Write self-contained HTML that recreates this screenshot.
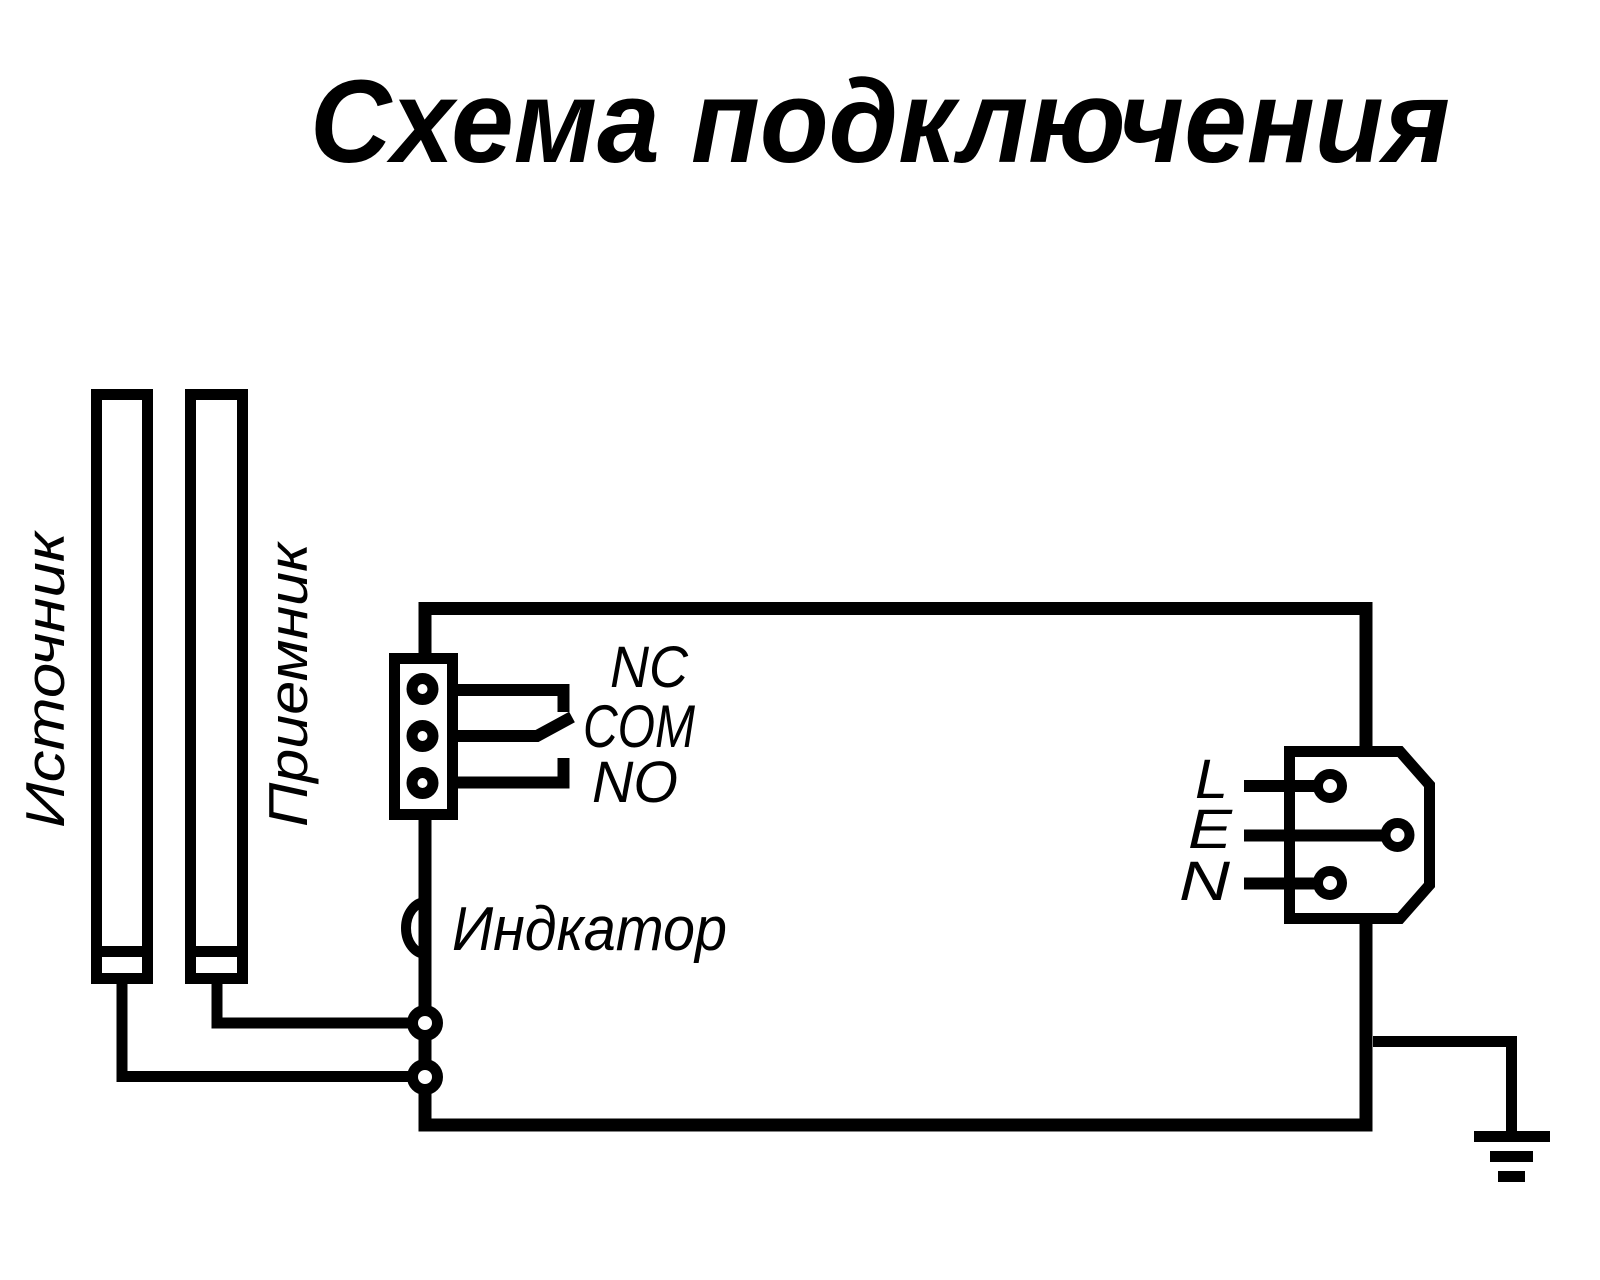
<!DOCTYPE html>
<html>
<head>
<meta charset="utf-8">
<style>
html,body{margin:0;padding:0;background:#fff;}
svg{display:block;}
text{font-family:"Liberation Sans","DejaVu Sans",sans-serif;font-style:italic;fill:#000;}
</style>
</head>
<body>
<svg width="1600" height="1280" viewBox="0 0 1600 1280" xmlns="http://www.w3.org/2000/svg">
<rect x="0" y="0" width="1600" height="1280" fill="#fff"/>

<!-- Title -->
<text x="310" y="162" font-size="118" font-weight="bold" textLength="1140" lengthAdjust="spacingAndGlyphs">Схема подключения</text>

<!-- Sensor bars -->
<rect x="96.5" y="394.5" width="51" height="584" fill="none" stroke="#000" stroke-width="11"/>
<line x1="96.5" y1="951.5" x2="147.5" y2="951.5" stroke="#000" stroke-width="11"/>
<rect x="190.5" y="394.5" width="52" height="584" fill="none" stroke="#000" stroke-width="11"/>
<line x1="190.5" y1="951.5" x2="242.5" y2="951.5" stroke="#000" stroke-width="11"/>

<!-- Vertical labels -->
<text transform="translate(64,828) rotate(-90)" font-size="55" textLength="296" lengthAdjust="spacingAndGlyphs">Источник</text>
<text transform="translate(307,827) rotate(-90)" font-size="55" textLength="284" lengthAdjust="spacingAndGlyphs">Приемник</text>

<!-- Sensor wires -->
<path d="M122 984 V1076.5 H423" fill="none" stroke="#000" stroke-width="11"/>
<path d="M217 984 V1023 H423" fill="none" stroke="#000" stroke-width="11"/>

<!-- Main box -->
<rect x="425" y="608.5" width="941" height="516.5" fill="none" stroke="#000" stroke-width="13"/>

<!-- Ground -->
<path d="M1373 1041.5 H1511.5 V1132" fill="none" stroke="#000" stroke-width="11"/>
<rect x="1474" y="1131" width="76" height="11" fill="#000"/>
<rect x="1490" y="1151" width="43" height="11" fill="#000"/>
<rect x="1498" y="1171" width="27" height="11" fill="#000"/>

<!-- Sensor connection circles -->
<circle cx="425" cy="1023" r="12.5" fill="#fff" stroke="#000" stroke-width="11"/>
<circle cx="425" cy="1077" r="12.5" fill="#fff" stroke="#000" stroke-width="11"/>

<!-- Indicator -->
<path d="M426 902 A20 26 0 0 0 426 954" fill="none" stroke="#000" stroke-width="10"/>
<text x="452" y="950" font-size="62" textLength="275" lengthAdjust="spacingAndGlyphs">Индкатор</text>

<!-- Relay terminal block -->
<rect x="394.5" y="658.5" width="58" height="156" fill="#fff" stroke="#000" stroke-width="11"/>
<circle cx="422.5" cy="689" r="10.5" fill="#fff" stroke="#000" stroke-width="11"/>
<circle cx="422.5" cy="736" r="10.5" fill="#fff" stroke="#000" stroke-width="11"/>
<circle cx="422.5" cy="783" r="10.5" fill="#fff" stroke="#000" stroke-width="11"/>

<!-- Relay contacts -->
<path d="M458 690 H563.5 V712" fill="none" stroke="#000" stroke-width="12"/>
<path d="M458 736 H537 L572 717" fill="none" stroke="#000" stroke-width="12"/>
<path d="M458 782.5 H563.5 V758" fill="none" stroke="#000" stroke-width="12"/>

<text x="610" y="687" font-size="58" textLength="78" lengthAdjust="spacingAndGlyphs">NC</text>
<text x="583" y="747" font-size="60" textLength="112" lengthAdjust="spacingAndGlyphs">COM</text>
<text x="592" y="802" font-size="58" textLength="86" lengthAdjust="spacingAndGlyphs">NO</text>

<!-- Power connector -->
<path d="M1289.5 751.5 H1400 L1429.5 785 V885 L1400 918.5 H1289.5 Z" fill="#fff" stroke="#000" stroke-width="11"/>
<line x1="1244" y1="786" x2="1330" y2="786" stroke="#000" stroke-width="12"/>
<line x1="1244" y1="835.5" x2="1397" y2="835.5" stroke="#000" stroke-width="12"/>
<line x1="1244" y1="883.5" x2="1330" y2="883.5" stroke="#000" stroke-width="12"/>
<circle cx="1330" cy="786" r="12" fill="#fff" stroke="#000" stroke-width="10"/>
<circle cx="1397.5" cy="835" r="12" fill="#fff" stroke="#000" stroke-width="10"/>
<circle cx="1330" cy="883" r="12" fill="#fff" stroke="#000" stroke-width="10"/>

<text x="1195" y="798" font-size="56" textLength="33" lengthAdjust="spacingAndGlyphs">L</text>
<text x="1188" y="848" font-size="56" textLength="44" lengthAdjust="spacingAndGlyphs">E</text>
<text x="1179" y="900" font-size="56" textLength="51" lengthAdjust="spacingAndGlyphs">N</text>
</svg>
</body>
</html>
